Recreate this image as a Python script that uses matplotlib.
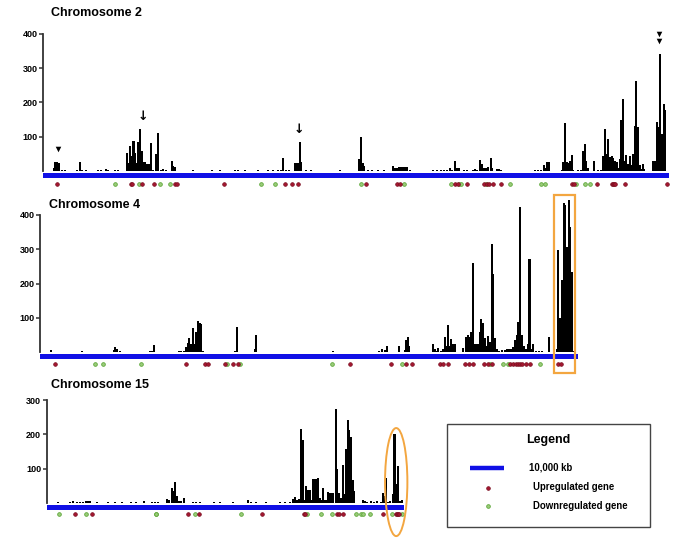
import matplotlib
matplotlib.use('Agg')
import matplotlib.pyplot as plt
from matplotlib.patches import Rectangle, Ellipse

plt.rcParams['font.family'] = ['Liberation Sans', 'DejaVu Sans']

# ---------------- data (positions in Mb, values = counts) ----------------
chr2_length = 182.1
chr2_pos = [3.2, 3.6, 4.1, 4.5, 5.5, 6.4, 9.9, 10.8, 11.3, 12.5, 16.0, 16.9, 18.3, 18.9, 20.9, 21.8,
            24.4, 24.9, 25.3, 25.8, 26.3, 26.7, 27.2, 27.7, 28.2, 28.7, 29.2, 29.7, 30.1, 30.6, 31.1,
            31.5, 32.0, 32.8, 33.3, 34.2, 34.9, 35.8, 37.4, 37.9, 38.4,
            43.6, 49.1, 51.5, 55.8, 56.7, 58.7, 62.5, 65.4, 66.9, 68.3, 69.2, 69.9, 70.6, 71.5,
            73.2, 73.6, 74.1, 74.6, 75.1, 76.5, 77.9, 86.3,
            91.9, 92.4, 92.9, 93.4, 94.5, 95.6, 97.4, 99.1,
            101.7, 102.3, 102.9, 103.5, 104.1, 104.7, 105.2, 105.8, 106.7,
            113.4, 114.5, 115.7, 116.6, 117.4, 118.3, 118.9, 119.8, 120.2, 120.8, 122.4, 123.3,
            124.9, 125.6, 126.2, 127.0, 127.5, 128.0, 128.5, 129.0, 129.4, 130.2, 130.6,
            132.0, 132.6, 133.1, 136.0, 136.9,
            143.0, 143.9, 144.8, 145.6, 146.1, 146.6, 147.1,
            150.9, 151.3, 151.7, 152.2, 152.7, 153.2, 153.7, 154.2, 155.5, 156.4,
            157.0, 157.5, 157.9, 158.4, 160.3, 161.3, 162.2,
            162.9, 163.4, 163.9, 164.3, 164.8, 165.3, 165.8, 166.3, 166.8, 167.3,
            167.7, 168.1, 168.6, 169.1, 169.6, 170.1, 170.6, 171.0, 171.5, 172.0, 172.5, 173.0,
            173.5, 173.9, 174.3, 174.8,
            177.4, 177.9, 178.4, 178.9, 179.4, 179.9, 180.4, 180.9]
chr2_val = [8, 25, 25, 24, 3, 2, 2, 25, 3, 2, 2, 2, 5, 3, 2, 2,
            52, 22, 73, 45, 87, 52, 24, 86, 122, 57, 25, 25, 20, 20, 20,
            83, 3, 50, 110, 3, 6, 2, 29, 14, 12,
            2, 2, 3, 2, 2, 3, 2, 2, 2, 2, 3, 39, 3, 2,
            24, 24, 24, 85, 25, 2, 2, 2,
            35, 98, 22, 14, 2, 2, 2, 2,
            15, 10, 10, 11, 12, 12, 13, 13, 2,
            2, 2, 3, 4, 3, 8, 4, 29, 8, 8, 2, 2,
            4, 5, 3, 32, 20, 8, 10, 10, 12, 37, 8,
            5, 5, 3, 1, 1,
            2, 3, 4, 17, 10, 25, 25,
            3, 25, 139, 25, 22, 30, 47, 3, 2, 3,
            58, 79, 30, 10, 29, 2, 2,
            45, 122, 50, 93, 42, 45, 37, 30, 25, 8,
            35, 149, 210, 30, 48, 20, 45, 18, 50, 131, 262, 128,
            18, 5, 20, 5,
            30, 30, 144, 129, 340, 108, 194, 178]
chr2_up = [4.1, 25.6, 25.9, 28.8, 32.3, 38.4, 39.0, 52.6, 70.3, 72.4, 74.1, 93.9, 102.9, 103.8,
           119.8, 120.6, 123.3, 128.2, 129.1, 129.7, 130.8, 133.1, 153.8, 154.4, 161.0,
           165.4, 165.7, 166.0, 166.3, 169.2, 181.4]
chr2_down = [20.9, 27.8, 33.9, 36.9, 63.4, 67.4, 92.4, 104.9, 118.6, 120.9, 121.5, 128.7,
             135.8, 144.8, 145.9, 154.9, 157.6, 159.0]
chr2_mark_pos = [4.4, 179.2, 179.2]
chr2_mark_val = [65, 398, 378]
chr2_arrow_pos = [28.9, 74.5]
chr2_arrow_val = [160, 120]

chr4_length = 156.5
chr4_pos = [3.2, 7.8, 9.0, 10.2, 11.0, 12.2, 15.4, 16.6, 21.5, 21.9, 22.4, 23.3, 24.4, 25.9,
            32.0, 32.7, 33.2, 40.4, 41.0, 42.0,
            42.4, 42.9, 43.4, 43.9, 44.4, 44.9, 45.4, 45.9, 46.4, 46.9, 47.4,
            50.3, 53.2, 55.2, 56.8, 57.3, 62.4, 62.9, 66.3, 70.1, 73.5,
            85.2, 86.3, 87.5, 88.7, 89.8, 97.7, 98.5, 99.3, 100.3, 100.8, 101.7, 104.4,
            106.0, 106.5, 107.0, 107.4, 109.9,
            114.3, 114.8, 115.3, 115.8, 116.6, 117.1, 117.6, 118.1, 118.6, 119.0, 119.5, 120.0, 120.5,
            122.9, 123.9, 124.4, 124.9, 125.4, 125.8, 126.3, 126.8, 127.3, 127.8, 128.3, 128.8,
            129.3, 129.8, 130.3, 130.8, 131.3, 131.8, 132.3, 132.8, 133.4, 134.3,
            135.2, 135.7, 136.2, 136.7, 137.2, 137.6, 138.1, 138.6, 139.1, 139.6, 140.1, 140.6,
            141.3, 141.8, 142.3, 142.8, 143.3, 144.2, 145.1, 145.9, 146.8, 148.0,
            150.2, 150.7, 151.2, 151.7, 152.2, 152.7, 153.2, 153.7, 154.2, 154.7, 155.2]
chr4_val = [6, 2, 2, 2, 2, 3, 2, 2, 6, 15, 10, 3, 2, 2,
            3, 3, 21, 4, 3, 5,
            17, 28, 41, 25, 72, 24, 60, 91, 85, 82, 5,
            2, 2, 2, 5, 75, 10, 50, 2, 2, 2,
            3, 2, 2, 2, 2, 2, 3, 9, 8, 20, 2, 18,
            8, 36, 44, 20, 2,
            24, 10, 5, 13, 3, 10, 44, 20, 80, 20, 39, 25, 25,
            12, 46, 51, 44, 58, 261, 25, 25, 25, 58, 97, 85,
            42, 20, 49, 30, 314, 229, 42, 10, 3, 8,
            8, 10, 10, 10, 10, 15, 36, 50, 89, 424, 50, 20,
            10, 25, 271, 10, 25, 5, 3, 3, 2, 44,
            10, 298, 99, 210, 433, 428, 307, 443, 365, 235, 5]
chr4_up = [4.3, 42.4, 48.0, 48.8, 53.8, 56.1, 57.6, 90.1, 102.0, 106.4, 108.1, 116.3, 117.2,
           118.6, 123.5, 124.7, 125.9, 129.1, 130.2, 131.4, 136.6, 137.5, 138.4, 139.0, 139.5,
           140.1, 141.3, 142.4, 150.6, 151.5]
chr4_down = [15.9, 18.3, 29.4, 54.3, 58.1, 84.9, 105.2, 130.8, 134.6, 136.0, 145.3]

chr15_length = 104.0
chr15_pos = [3.3, 6.8, 7.7, 8.8, 9.7, 10.6, 11.4, 12.0, 12.6, 14.6, 17.8, 19.9, 21.9, 24.5, 26.0,
             28.3, 30.6, 31.5, 32.4, 34.9, 35.4, 36.3, 36.8, 37.4, 37.9, 38.5, 39.0, 40.0,
             42.5, 43.4, 44.6, 48.6, 50.4, 54.2, 58.4, 59.4, 60.8, 63.8, 67.8, 69.3, 70.8,
             71.6, 72.2, 72.9, 73.4, 73.9, 74.4, 74.9, 75.4, 75.9, 76.4, 76.9, 77.4, 77.9,
             78.4, 78.9, 79.4, 79.9, 80.3, 80.8, 81.3, 81.8, 82.3, 82.8, 83.3, 84.0, 84.5,
             85.0, 85.5, 86.0, 86.5, 87.0, 87.5, 88.0, 88.5, 89.0, 89.4,
             91.9, 92.5, 93.1, 94.3, 95.1, 96.0, 97.2, 97.7, 98.2, 98.7, 99.2, 99.8,
             100.6, 101.1, 101.6, 102.1, 102.6, 103.2]
chr15_val = [2, 3, 5, 3, 3, 4, 5, 6, 5, 2, 2, 2, 2, 2, 2,
             6, 3, 4, 3, 12, 8, 45, 35, 60, 20, 5, 5, 15,
             2, 2, 2, 2, 2, 2, 8, 3, 3, 2, 2, 2, 3,
             12, 17, 10, 12, 216, 184, 10, 50, 38, 38, 10, 70, 70,
             70, 72, 15, 10, 45, 8, 10, 31, 28, 30, 28, 273, 98,
             30, 15, 111, 25, 156, 242, 213, 192, 67, 36,
             8, 5, 3, 5, 4, 5, 3, 30, 20, 74, 3, 5,
             25, 200, 55, 109, 5, 10]
chr15_up = [8.2, 13.1, 41.1, 44.2, 62.5, 74.8, 75.1, 84.5, 85.0, 86.0, 97.8, 101.5, 101.8,
            102.1, 102.4]
chr15_down = [3.7, 11.4, 31.7, 31.9, 43.0, 56.4, 75.6, 79.8, 83.0, 89.9, 91.4, 92.0, 93.9,
              100.4, 103.3]

titles = ['Chromosome 2', 'Chromosome 4', 'Chromosome 15']
legend_labels = ['10,000 kb', 'Upregulated gene', 'Downregulated gene']
scale_bar_mb = 10.0

# ---------------- drawing ----------------
W, H = 685, 545
SCALE = 3.44  # px per Mb
BLUE = '#1010e6'
UPC = '#a3172f'
DNC = '#5ea83a'
ORANGE = '#f3a640'

fig = plt.figure(figsize=(W / 100, H / 100), dpi=100)


def make_axes(left_px, zero_px, length, ymin, ymax, px100, ytop):
    ppu = px100 / 100.0
    bottom_px = zero_px - ymin * ppu
    top_px = zero_px - ymax * ppu
    ax = fig.add_axes([left_px / W, 1 - bottom_px / H, length * SCALE / W,
                       (bottom_px - top_px) / H])
    ax.set_xlim(0, length)
    ax.set_ylim(ymin, ymax)
    ax.patch.set_visible(False)
    for s in ['top', 'right', 'bottom']:
        ax.spines[s].set_visible(False)
    ax.spines['left'].set_bounds(0, ytop)
    ax.spines['left'].set_linewidth(1.3)
    ax.spines['left'].set_color('#333333')
    ax.set_xticks([])
    ticks = list(range(100, ytop + 1, 100))
    ax.set_yticks(ticks)
    ax.set_yticklabels([str(t) for t in ticks], fontsize=6.5, fontweight='bold')
    ax.tick_params(axis='y', direction='out', length=3, width=1.1, color='#333333', pad=1)
    return ax


def draw_chrom(ax, length, pos, val, up, down, dot_y):
    ax.bar(pos, val, width=0.6, color='black', linewidth=0, zorder=3)
    ax.add_patch(Rectangle((0, -19), length, 13, facecolor=BLUE, edgecolor='none', zorder=2))
    ax.scatter(down, [dot_y] * len(down), s=7, marker='o', facecolor='#9ccc7a',
               edgecolor=DNC, linewidths=0.6, zorder=4, clip_on=False)
    ax.scatter(up, [dot_y] * len(up), s=7, marker='o', facecolor=UPC,
               edgecolor='#7a0e20', linewidths=0.5, zorder=5, clip_on=False)


ax2 = make_axes(43, 171, chr2_length, -50, 420, 34.3, 400)
draw_chrom(ax2, chr2_length, chr2_pos, chr2_val, chr2_up, chr2_down, -38)
ax2.scatter(chr2_mark_pos, chr2_mark_val, marker='v', s=16, color='black', linewidths=0, zorder=5)
for x, v in zip(chr2_arrow_pos, chr2_arrow_val):
    ax2.text(x, v, '\u2193', ha='center', va='center', fontsize=9, fontweight='bold',
             family='DejaVu Sans')

ax4 = make_axes(40, 352.4, chr4_length, -50, 460, 34.4, 400)
draw_chrom(ax4, chr4_length, chr4_pos, chr4_val, chr4_up, chr4_down, -33)
ax4.add_patch(Rectangle((149.4, -60), 6.1, 517, fill=False, edgecolor=ORANGE, linewidth=1.6,
                        clip_on=False, zorder=6))

ax15 = make_axes(46.7, 503, chr15_length, -50, 320, 34.3, 300)
draw_chrom(ax15, chr15_length, chr15_pos, chr15_val, chr15_up, chr15_down, -33)
ax15.add_patch(Ellipse((101.6, 61), 6.5, 315, fill=False, edgecolor=ORANGE, linewidth=1.4,
                       clip_on=False, zorder=6))

# overlay in pixel coordinates for titles & legend
ov = fig.add_axes([0, 0, 1, 1])
ov.set_xlim(0, W)
ov.set_ylim(H, 0)
ov.axis('off')
ov.patch.set_visible(False)

for (tx, ty), t in zip([(51, 16), (49, 208.5), (51, 388.5)], titles):
    ov.text(tx, ty, t, fontsize=9, fontweight='bold', ha='left', va='baseline')

ov.add_patch(Rectangle((447, 424), 203, 103, fill=False, edgecolor='#444444', linewidth=1.0))
ov.text(548, 440, 'Legend', fontsize=9, fontweight='bold', ha='center', va='center')
ov.plot([470, 470 + scale_bar_mb * SCALE], [467.7, 467.7], color=BLUE, linewidth=3.2,
        solid_capstyle='butt')
ov.text(529, 467.5, legend_labels[0], fontsize=6.9, fontweight='bold', ha='left', va='center')
ov.scatter([487.7], [487.5], s=7, marker='o', facecolor=UPC, edgecolor='#7a0e20', linewidths=0.5)
ov.text(533, 487, legend_labels[1], fontsize=6.9, fontweight='bold', ha='left', va='center')
ov.scatter([487.7], [506], s=7, marker='o', facecolor='#9ccc7a', edgecolor=DNC, linewidths=0.6)
ov.text(533, 506, legend_labels[2], fontsize=6.9, fontweight='bold', ha='left', va='center')

fig.savefig('out.png', dpi=100)
